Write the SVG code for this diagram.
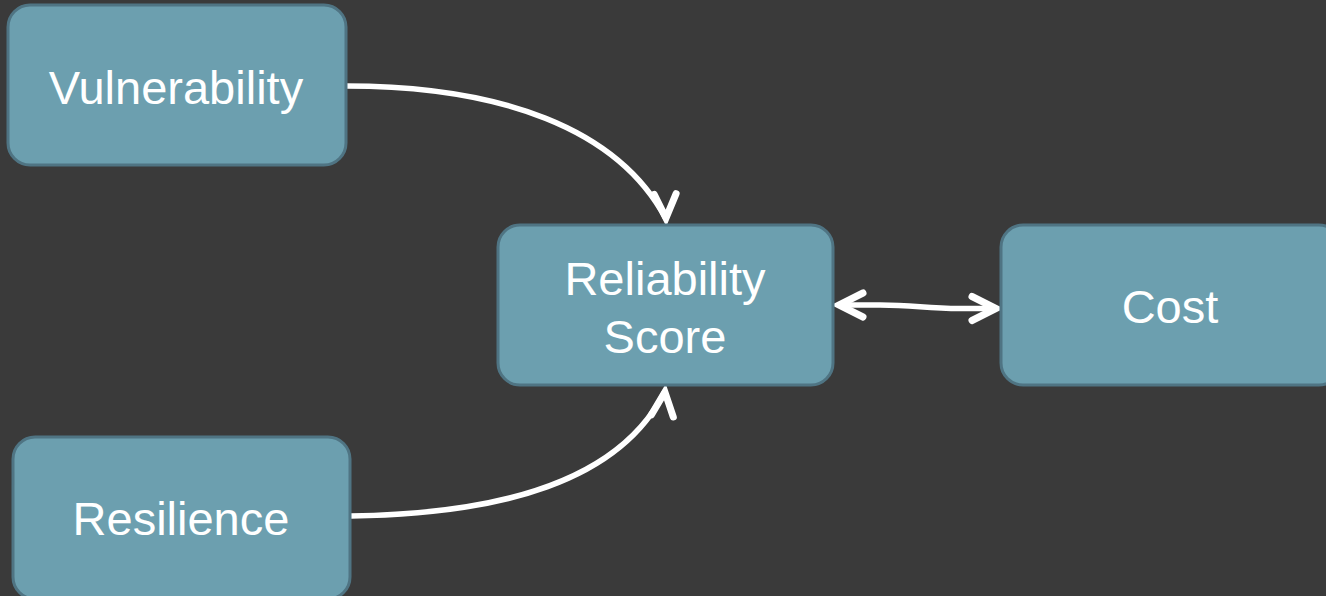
<svg xmlns="http://www.w3.org/2000/svg" width="1326" height="596" viewBox="0 0 1326 596">
  <defs>
    <style>
      .node rect { fill: #6C9FAF; stroke: #4F7483; stroke-width: 3; }
      .node text { fill: #FFFFFF; font-family: "Liberation Sans", Arial, sans-serif; font-size: 47px; text-anchor: middle; }
      .edge { fill: none; stroke: #FFFFFF; stroke-width: 5.5; stroke-linecap: butt; }
      .head { fill: none; stroke: #FFFFFF; stroke-width: 7; stroke-linecap: round; stroke-linejoin: miter; }
    </style>
    <!-- open chevron head; tip sits on the path end -->
    <marker id="chev" markerUnits="userSpaceOnUse" viewBox="-30 -16 34 32" refX="0" refY="0" markerWidth="34" markerHeight="32" orient="auto-start-reverse" overflow="visible">
      <path class="head" d="M-25,-12 L-1,0 L-25,12"/>
    </marker>
    <marker id="chevDown" markerUnits="userSpaceOnUse" viewBox="-30 -16 34 32" refX="0" refY="0" markerWidth="34" markerHeight="32" orient="88" overflow="visible">
      <path class="head" d="M-25,-11 L-1,0 L-25,11"/>
    </marker>
    <marker id="chevUp" markerUnits="userSpaceOnUse" viewBox="-30 -16 34 32" refX="0" refY="0" markerWidth="34" markerHeight="32" orient="-84" overflow="visible">
      <path class="head" d="M-25,-11 L-1,0 L-25,11"/>
    </marker>
  </defs>

  <rect x="0" y="0" width="1326" height="596" fill="#3A3A3A"/>

  <g id="connectors">
    <path class="edge" d="M346,86 C500,86 618,128 666,219" marker-end="url(#chevDown)"/>
    <path class="edge" d="M351,516 C500,514 620,482 665,391" marker-end="url(#chevUp)"/>
    <path class="edge" d="M838,305 L880,305 C915,305 925,308.5 960,308.5 L997,308.5" marker-start="url(#chev)" marker-end="url(#chev)"/>
  </g>

  <g id="vulnerability" class="node">
    <rect x="8" y="5" width="338" height="160" rx="22"/>
    <text x="176" y="104">Vulnerability</text>
  </g>

  <g id="reliability-score" class="node">
    <rect x="498" y="225" width="335" height="160" rx="22"/>
    <text x="665" y="295">Reliability</text>
    <text x="665" y="353">Score</text>
  </g>

  <g id="cost" class="node">
    <rect x="1001" y="225" width="340" height="160" rx="22"/>
    <text x="1170" y="323">Cost</text>
  </g>

  <g id="resilience" class="node">
    <rect x="13" y="437" width="337" height="162" rx="22"/>
    <text x="181" y="535">Resilience</text>
  </g>
</svg>
